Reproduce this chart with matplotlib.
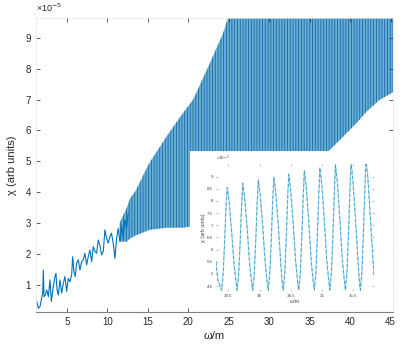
"""
    Susceptibility chi vs omega with zoomed inset
"""

import matplotlib.pyplot as plt
from matplotlib.patches import Rectangle

plt.rcParams['font.family'] = ['Liberation Sans', 'DejaVu Sans']
plt.rcParams['hatch.linewidth'] = 0.65

# low-omega noisy trace (chi in units of 1e-5)
w_line = [1.26, 1.46, 1.67, 1.87, 2.00, 2.08, 2.16, 2.33, 2.49, 2.70, 2.90, 3.07, 3.31, 3.52,
          3.64, 3.77, 3.93, 4.14, 4.34, 4.55, 4.75, 4.96, 5.16, 5.37, 5.58, 5.70, 5.86, 6.03,
          6.19, 6.40, 6.60, 6.81, 7.02, 7.22, 7.43, 7.63, 7.84, 8.05, 8.25, 8.46, 8.66, 8.87,
          9.07, 9.28, 9.49, 9.69, 9.90, 10.10, 10.30, 10.50, 10.72, 10.93, 11.13, 11.34,
          11.54, 11.75, 11.95, 12.16, 12.37, 12.57]
chi_line = [0.46, 0.24, 0.30, 0.57, 0.73, 1.48, 0.62, 0.67, 0.84, 0.62, 1.16, 0.46, 0.94, 1.27,
            1.37, 0.84, 0.67, 1.16, 0.73, 1.05, 1.27, 0.78, 1.21, 1.10, 1.32, 1.91, 1.43, 1.27,
            1.70, 1.81, 1.48, 1.75, 1.81, 2.02, 1.65, 1.91, 2.13, 1.75, 2.24, 2.08, 2.02, 2.45,
            2.29, 1.97, 2.08, 2.78, 2.51, 2.35, 2.56, 2.67, 2.35, 1.86, 2.51, 2.83,
            2.40, 2.94, 2.51, 3.10, 2.83, 3.32]

# envelope of the fast oscillating part
w_band = [11.5, 12.4, 12.8, 13.5, 14.9, 15.2, 17.3, 19.3, 20.6, 22.7, 24.3, 25.1, 30.0,
          34.0, 37.5, 39.1, 40.8, 42.0, 43.6, 45.4]
chi_low = [2.40, 2.40, 2.50, 2.60, 2.75, 2.78, 2.85, 2.85, 2.90, 3.20, 3.45, 3.55, 4.10,
           4.60, 5.37, 5.79, 6.24, 6.60, 6.98, 7.25]
chi_high = [3.00, 3.50, 3.80, 4.05, 4.80, 4.95, 5.80, 6.55, 7.00, 8.20, 9.15, 9.80, 9.80,
            9.80, 9.80, 9.80, 9.80, 9.80, 9.80, 9.80]

# inset trace
w_in = [33.30, 33.33, 33.39, 33.415, 33.44, 33.46, 33.48, 33.51, 33.55, 33.59, 33.62,
        33.64, 33.665, 33.69, 33.71, 33.73, 33.76, 33.80, 33.84, 33.87,
        33.89, 33.915, 33.94, 33.96, 33.98, 34.01, 34.05, 34.09, 34.12,
        34.14, 34.165, 34.19, 34.21, 34.23, 34.26, 34.30, 34.34, 34.36,
        34.38, 34.405, 34.43, 34.45, 34.47, 34.50, 34.54, 34.58, 34.61,
        34.63, 34.655, 34.68, 34.70, 34.72, 34.75, 34.79, 34.83, 34.86,
        34.88, 34.905, 34.93, 34.95, 34.97, 35.00, 35.04, 35.08, 35.11,
        35.13, 35.155, 35.18, 35.20, 35.22, 35.25, 35.29, 35.33, 35.36,
        35.38, 35.405, 35.43, 35.45, 35.47, 35.50, 35.54, 35.58, 35.60,
        35.62, 35.645, 35.67, 35.69, 35.71, 35.74, 35.78, 35.82, 35.84]
chi_in = [5.50, 4.75, 4.33, 5.00, 6.40, 7.70, 8.55, 8.00, 6.80, 5.40, 4.70,
          4.33, 5.00, 6.40, 7.75, 8.73, 8.15, 6.90, 5.45, 4.70,
          4.32, 5.00, 6.45, 7.85, 8.86, 8.25, 7.00, 5.50, 4.72,
          4.32, 5.00, 6.50, 7.90, 8.98, 8.35, 7.05, 5.50, 4.75,
          4.33, 5.00, 6.50, 8.00, 9.10, 8.45, 7.10, 5.55, 4.75,
          4.34, 5.00, 6.55, 8.05, 9.25, 8.60, 7.20, 5.55, 4.75,
          4.34, 5.00, 6.60, 8.10, 9.37, 8.70, 7.25, 5.60, 4.78,
          4.34, 5.05, 6.60, 8.15, 9.48, 8.80, 7.30, 5.60, 4.80,
          4.33, 5.05, 6.65, 8.20, 9.60, 8.90, 7.35, 5.65, 4.85,
          4.33, 5.05, 6.70, 8.25, 9.70, 9.00, 7.40, 5.70, 4.98]

inset_xticks = [33.5, 34, 34.5, 35, 35.5]
inset_yticks = [4.5, 5, 5.5, 6, 6.5, 7, 7.5, 8, 8.5, 9]

blue = '#0072BD'
light = '#69B0D6'
gray = '#404040'

fig = plt.figure(figsize=(4.15, 3.48), dpi=100)
ax = fig.add_axes([0.0867, 0.1034, 0.8603, 0.8448])

ax.fill_between(w_band, chi_low, chi_high, facecolor=light, edgecolor='#1A6CA6',
                hatch='|' * 6, linewidth=0, zorder=1)
ax.plot(w_line, chi_line, color=blue, lw=0.8, zorder=1.5)

ax.set_xlim(1.17, 45.3)
ax.set_ylim(0.12, 9.64)
ax.add_patch(Rectangle((20.19, 0.12), 30, 5.32 - 0.12, facecolor='white',
                       edgecolor='none', zorder=2))

ax.set_xticks([5, 10, 15, 20, 25, 30, 35, 40, 45])
ax.set_yticks(range(1, 10))
ax.tick_params(direction='in', length=3, width=0.6, colors=gray, labelsize=7,
               top=True, right=True, labelcolor='#262626')
for side in ['top', 'left', 'right']:
    ax.spines[side].set_color('#e6e6e6')
    ax.spines[side].set_linewidth(0.5)
ax.spines['bottom'].set_color('#808080')
ax.spines['bottom'].set_linewidth(0.8)
ax.set_xlabel('ω/m', fontsize=8, color='#262626', labelpad=3)
ax.set_ylabel('χ (arb units)', fontsize=8, color='#262626', labelpad=6)
ax.text(0.0, 1.012, '×10$^{-5}$', transform=ax.transAxes, fontsize=6.5,
        color='#262626', ha='left', va='bottom')

# inset
axi = fig.add_axes([0.5205, 0.1638, 0.3807, 0.365])
axi.plot(w_in, chi_in, color='#A8E4F2', lw=1.0)
axi.plot(w_in, chi_in, color='#4A95C0', lw=0.6, ls=(0, (4, 2.5)))
axi.set_xlim(33.30, 35.84)
axi.set_ylim(4.30, 9.52)
axi.set_xticks(inset_xticks)
axi.set_xticklabels(['33.5', '34', '34.5', '35', '35.5'])
axi.set_yticks(inset_yticks)
axi.set_yticklabels(['4.5', '5', '5.5', '6', '6.5', '7', '7.5', '8', '8.5', '9'])
axi.tick_params(direction='in', length=1.5, width=0.4, colors='#808080', labelsize=3.2,
                top=True, right=True, labelcolor='#404040', pad=2)
for side in axi.spines:
    axi.spines[side].set_visible(False)
axi.set_xlabel('ω/m', fontsize=3.8, color='#404040', labelpad=1)
axi.set_ylabel('χ (arb units)', fontsize=3.8, color='#404040', labelpad=1)
axi.text(0.0, 1.01, '×10$^{-5}$', transform=axi.transAxes, fontsize=3.2,
         color='#404040', ha='left', va='bottom')

fig.savefig('out.png', dpi=100)
